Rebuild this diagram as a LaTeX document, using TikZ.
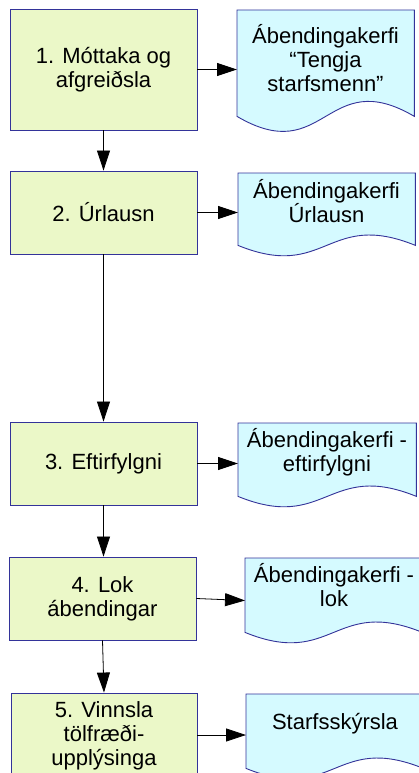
\documentclass[tikz,border=0pt]{standalone}
\usepackage{fontspec}
\setmainfont{Liberation Sans}
\usetikzlibrary{arrows.meta,calc}
\definecolor{boxfill}{HTML}{EBF8C8}
\definecolor{docfill}{HTML}{D5FAFF}
\definecolor{edgeblue}{HTML}{333399}
\newcommand{\docshape}[2]{%
  \path[docline] (#1.north west) -- (#1.north east) -- (#1.south east)
    .. controls ($(#1.south east)+(-88.5,#2)$) and ($(#1.south west)+(88.5,-#2)$) .. (#1.south west) -- cycle;}
\begin{document}
\begin{tikzpicture}[x=1pt,y=1pt,
  txt/.style={align=center,font=\fontsize{22}{24}\selectfont,inner sep=0pt},
  stepbox/.style={txt,draw=edgeblue,fill=boxfill,line width=0.9pt,minimum width=187pt,minimum height=83pt},
  docarea/.style={inner sep=0pt,minimum width=177pt,anchor=north west},
  docline/.style={draw=edgeblue,fill=docfill,line width=0.9pt},
  conn/.style={draw=black,line width=0.8pt,-{Triangle[length=20pt,width=13pt]}}]
\useasboundingbox (0,0) rectangle (418,-773);
% process boxes
\node[stepbox,minimum height=121pt] (b1) at (103.5,-69.5) {1. Móttaka og\\afgreiðsla};
\node[stepbox] (b2) at (103.5,-212.5) {2. Úrlausn};
\node[stepbox] (b3) at (103.5,-463.5) {3. Eftirfylgni};
\node[stepbox] (b4) at (102.5,-598.5) {4. Lok\\ábendingar};
\node[stepbox,minimum width=186pt,minimum height=86pt] (b5) at (104,-736) {5. Vinnsla\\tölfræði-\\upplýsinga};
% document areas
\node[docarea,minimum height=106pt] (d1) at (237,-10) {};
\node[docarea,minimum height=72pt] (d2) at (238,-173) {};
\node[docarea,minimum width=178pt,minimum height=73pt] (d3) at (238,-423) {};
\node[docarea,minimum height=74pt] (d4) at (245,-558) {};
\node[docarea,minimum height=74pt] (d5) at (246,-694) {};
\docshape{d1}{52}
\docshape{d2}{36}
\docshape{d3}{36}
\docshape{d4}{36}
\docshape{d5}{36}
% document texts
\node[txt] (t1) at (325.5,-58) {Ábendingakerfi\\“Tengja\\starfsmenn”};
\node[txt] (t2) at (326.5,-201) {Ábendingakerfi\\Úrlausn};
\node[txt] (t3) at (327,-452.5) {Ábendingakerfi -\\eftirfylgni};
\node[txt] (t4) at (334,-585) {Ábendingakerfi -\\lok};
\node[txt] (t5) at (335,-724) {Starfsskýrsla};
% connectors
\draw[conn] (b1.east) -- (b1.east -| d1.west);
\draw[conn] (b2.east) -- (b2.east -| d2.west);
\draw[conn] (b3.east) -- (b3.east -| d3.west);
\draw[conn] (b4.east) -- ($(b4.east -| d4.west)+(0,-2)$);
\draw[conn] ([yshift=1pt]b5.east) -- ([yshift=1pt]b5.east -| d5.west);
\draw[conn] (b1.south) -- (b2.north);
\draw[conn] (b2.south) -- (b3.north);
\draw[conn] (b3.south) -- (b3.south |- b4.north);
\draw[conn] (b4.south) -- (b5.north);
\end{tikzpicture}
\end{document}
